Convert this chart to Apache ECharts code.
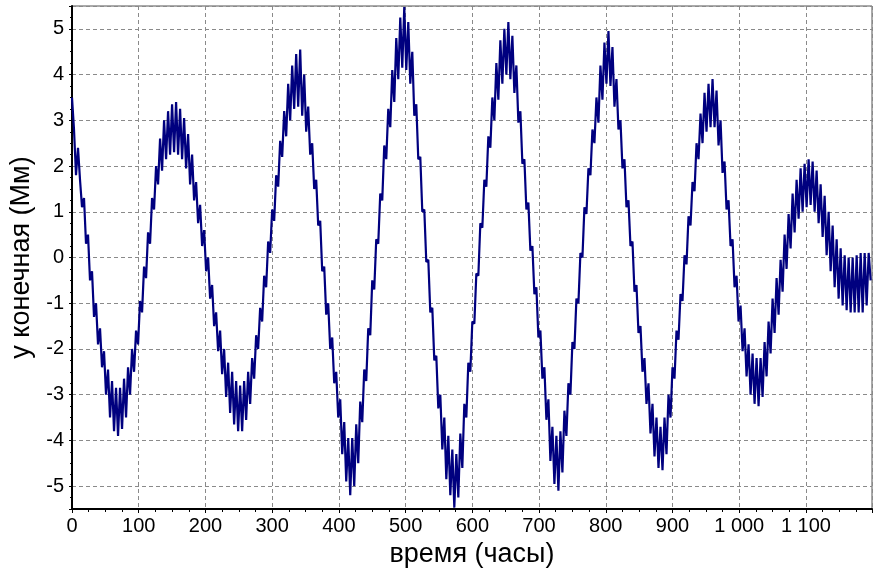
<!DOCTYPE html>
<html>
<head>
<meta charset="utf-8">
<script src="https://cdn.jsdelivr.net/npm/echarts@6/dist/echarts.min.js"></script>
<style>
  html, body { margin: 0; padding: 0; background: #fff; }
  #chart { width: 879px; height: 574px; }
</style>
</head>
<body>
<div id="chart"></div>
<script>
// Sampling step of the record, hours
const stepHours = 3;

// y final (Mm), one reading every stepHours from t = 0 (8 readings = 24 h per row)
const yValues = [
  3.5, 2.8, 1.8, 2.4, 1.7, 1.1, 1.3, 0.3,
  0.5, -0.5, -0.3, -1.3, -1.0, -1.9, -1.55, -2.4,
  -2.05, -3.0, -2.45, -3.5, -2.7, -3.8, -2.85, -3.9,
  -2.85, -3.75, -2.65, -3.5, -2.4, -3.0, -2.0, -2.5,
  -1.6, -1.9, -0.95, -1.2, -0.2, -0.45, 0.55, 0.3,
  1.3, 1.05, 2.0, 1.6, 2.6, 1.9, 3.0, 2.15,
  3.2, 2.25, 3.35, 2.3, 3.4, 2.25, 3.25, 2.15,
  3.05, 1.95, 2.7, 1.6, 2.25, 1.25, 1.65, 0.75,
  1.15, 0.25, 0.6, -0.3, 0.0, -0.9, -0.6, -1.5,
  -1.2, -2.05, -1.6, -2.55, -2.0, -3.05, -2.3, -3.4,
  -2.5, -3.65, -2.7, -3.8, -2.8, -3.8, -2.7, -3.55,
  -2.5, -3.2, -2.2, -2.65, -1.7, -2.0, -1.1, -1.4,
  -0.4, -0.65, 0.35, 0.1, 1.05, 0.8, 1.8, 1.55,
  2.55, 2.2, 3.2, 2.65, 3.8, 3.0, 4.2, 3.25,
  4.45, 3.3, 4.55, 3.1, 4.0, 2.75, 3.3, 2.25,
  2.5, 1.5, 1.7, 0.7, 0.8, -0.3, -0.2, -1.25,
  -1.0, -2.0, -1.75, -2.75, -2.5, -3.5, -3.1, -4.3,
  -3.6, -4.9, -3.95, -5.2, -3.95, -5.0, -3.65, -4.5,
  -3.15, -3.6, -2.45, -2.7, -1.55, -1.7, -0.5, -0.7,
  0.4, 0.3, 1.4, 1.25, 2.45, 2.15, 3.25, 2.85,
  4.1, 3.4, 4.8, 3.9, 5.25, 4.15, 5.48, 4.1,
  5.15, 3.8, 4.5, 3.1, 3.35, 2.15, 2.2, 1.0,
  1.05, -0.1, -0.05, -1.2, -1.1, -2.25, -2.15, -3.3,
  -3.0, -4.2, -3.5, -4.85, -3.9, -5.2, -4.2, -5.47,
  -4.3, -5.25, -3.85, -4.6, -3.2, -3.5, -2.3, -2.5,
  -1.4, -1.45, -0.35, -0.4, 0.75, 0.65, 1.7, 1.55,
  2.65, 2.4, 3.5, 3.0, 4.25, 3.45, 4.75, 3.8,
  5.0, 4.0, 5.15, 3.9, 4.85, 3.6, 4.2, 2.95,
  3.2, 2.05, 2.15, 1.05, 1.2, 0.15, 0.25, -0.8,
  -0.65, -1.75, -1.6, -2.65, -2.4, -3.55, -3.1, -4.45,
  -3.7, -4.95, -3.9, -5.1, -3.8, -4.7, -3.35, -3.9,
  -2.75, -3.0, -1.85, -2.0, -0.9, -1.0, 0.1, 0.0,
  1.1, 0.95, 1.95, 1.8, 2.8, 2.5, 3.5, 2.95,
  4.2, 3.45, 4.7, 3.8, 4.95, 3.75, 4.6, 3.3,
  3.9, 2.8, 3.0, 1.95, 2.15, 1.1, 1.25, 0.25,
  0.35, -0.75, -0.6, -1.65, -1.5, -2.5, -2.2, -3.2,
  -2.75, -3.85, -3.2, -4.35, -3.5, -4.6, -3.7, -4.65,
  -3.5, -4.3, -3.0, -3.5, -2.4, -2.65, -1.6, -1.8,
  -0.8, -0.95, 0.05, -0.15, 0.9, 0.7, 1.65, 1.45,
  2.5, 2.15, 3.15, 2.5, 3.6, 2.75, 3.8, 2.85,
  3.9, 2.85, 3.65, 2.45, 3.0, 1.85, 2.1, 1.05,
  1.25, 0.25, 0.4, -0.65, -0.4, -1.4, -1.05, -2.05,
  -1.55, -2.6, -1.9, -3.0, -2.1, -3.2, -2.2, -3.25,
  -2.2, -3.05, -1.85, -2.6, -1.4, -2.1, -0.9, -1.65,
  -0.45, -1.25, -0.05, -0.75, 0.5, -0.25, 0.95, 0.2,
  1.4, 0.55, 1.7, 0.85, 1.95, 1.0, 2.05, 1.1,
  2.15, 1.15, 2.1, 1.0, 1.9, 0.75, 1.6, 0.45,
  1.35, 0.05, 1.0, -0.3, 0.7, -0.65, 0.4, -0.9,
  0.2, -1.05, 0.05, -1.15, 0.0, -1.2, 0.0, -1.2,
  0.05, -1.2, 0.1, -1.2, 0.1, -1.05, 0.1, -0.5
];

// Axis settings
const xMax = 1199;
const xTickStep = 100;
const yMin = -5.5;
const yMax = 5.5;

const points = yValues.map((v, i) => [i * stepHours, v]);

// Thousands grouped with a space: 1 000, 1 100
function groupThousands(v) {
  return String(Math.round(v)).replace(/\B(?=(\d{3})+(?!\d))/g, ' ');
}

const chart = echarts.init(document.getElementById('chart'), null, { renderer: 'canvas' });

const labelFont = {
  fontFamily: 'Liberation Sans, Arial, sans-serif',
  fontSize: 20,
  color: '#000'
};

chart.setOption({
  animation: false,
  backgroundColor: '#fff',
  grid: {
    left: 72, right: 7, top: 6, bottom: 65,
    show: true,
    borderColor: '#555',
    borderWidth: 1,
    containLabel: false
  },
  xAxis: {
    type: 'value',
    min: 0,
    max: xMax,
    interval: xTickStep,
    name: 'время (часы)',
    nameLocation: 'middle',
    nameGap: 30,
    nameTextStyle: { fontFamily: 'Liberation Sans, Arial, sans-serif', fontSize: 27, color: '#000' },
    axisLine: { show: true, onZero: false, lineStyle: { color: '#000', width: 2 } },
    axisTick: { show: true, inside: false, length: 4, lineStyle: { color: '#000' } },
    minorTick: { show: true, splitNumber: 4, length: 3, lineStyle: { color: '#000' } },
    axisLabel: Object.assign({ margin: 7, showMaxLabel: false, formatter: groupThousands }, labelFont),
    splitLine: { show: true, lineStyle: { color: '#8a8a8a', type: [4, 3], width: 1 } },
    minorSplitLine: { show: false }
  },
  yAxis: {
    type: 'value',
    min: yMin,
    max: yMax,
    splitNumber: 11,
    name: 'у конечная (Мм)',
    nameLocation: 'middle',
    nameGap: 36,
    nameRotate: 90,
    nameTextStyle: { fontFamily: 'Liberation Sans, Arial, sans-serif', fontSize: 27, color: '#000' },
    axisLine: { show: true, onZero: false, lineStyle: { color: '#000', width: 2 } },
    axisTick: { show: true, inside: false, length: 3, lineStyle: { color: '#000' } },
    minorTick: { show: true, splitNumber: 4, length: 2, lineStyle: { color: '#000' } },
    axisLabel: Object.assign({
      margin: 8,
      showMinLabel: false,
      showMaxLabel: false,
      formatter: v => (Number.isInteger(v) ? String(v) : '')
    }, labelFont),
    splitLine: { show: true, lineStyle: { color: '#8a8a8a', type: [4, 3], width: 1 } }
  },
  series: [{
    type: 'line',
    data: points,
    showSymbol: false,
    symbol: 'none',
    lineStyle: { color: '#00007f', width: 2.2 },
    clip: true
  }]
});
</script>
</body>
</html>
